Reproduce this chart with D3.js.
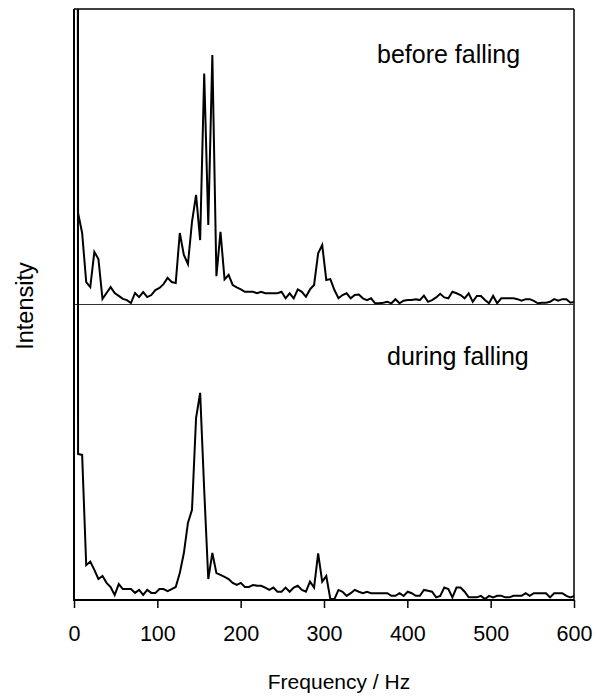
<html>
<head>
  <meta charset="utf-8">
  <script src="https://d3js.org/d3.v7.min.js"></script>
  <script>
    // spectra on a 4.88 Hz grid, intensity in % of panel height
    var freqStep = 4.8828125;
    var beforeFalling = [
      3000, 31.0, 24.2, 7.6, 5.9, 17.8, 15.4, 1.9, 3.9, 5.9,
      3.9, 2.9, 1.9, 1.5, 0.5, 3.9, 2.5, 4.2, 2.5, 3.2,
      4.9, 5.6, 6.9, 9.0, 7.6, 7.3, 24.2, 16.8, 13.7, 28.0,
      37.1, 21.8, 78.2, 26.9, 84.4, 9.6, 24.6, 8.5, 10.0, 6.6,
      5.8, 5.1, 4.3, 4.3, 4.3, 3.8, 4.3, 3.8, 3.8, 3.8,
      3.8, 4.3, 2.1, 3.8, 2.1, 5.1, 4.3, 2.6, 5.1, 6.6,
      17.3, 20.1, 8.3, 8.6, 4.9, 2.1, 3.2, 3.8, 2.1, 3.2,
      3.4, 2.1, 1.5, 2.1, 0.4, 0.4, 0.6, 0.9, 0.4, 1.8,
      0.4, 1.3, 1.5, 1.5, 1.8, 1.5, 3.0, 0.9, 1.5, 2.4,
      3.6, 2.4, 2.1, 4.3, 3.8, 3.2, 2.1, 3.8, 0.9, 2.9,
      2.9, 1.5, 0.4, 2.9, 0.4, 2.1, 2.1, 2.1, 2.1, 1.8,
      1.3, 1.8, 1.8, 1.2, 0.4, 0.6, 0.6, 0.9, 1.8, 1.3,
      1.8, 1.8, 0.6, 0.9
    ];
    var duringFalling = [
      3000, 49.4, 49.1, 11.8, 13.0, 10.2, 7.1, 8.1, 5.8, 4.4,
      1.7, 5.4, 3.7, 3.7, 3.7, 2.4, 3.4, 1.7, 3.4, 2.4,
      2.4, 3.7, 3.7, 3.0, 3.7, 4.4, 9.1, 15.9, 26.1, 30.5,
      61.6, 70.1, 37.2, 7.1, 15.9, 9.1, 8.5, 7.8, 7.1, 5.8,
      5.1, 5.8, 4.4, 4.4, 5.1, 4.8, 4.8, 4.2, 3.4, 4.2,
      2.8, 2.8, 4.2, 2.8, 4.2, 4.8, 3.4, 2.8, 6.2, 4.2,
      15.8, 6.2, 8.1, 0.3, 0.3, 3.4, 2.8, 1.4, 2.3, 3.4,
      2.8, 2.3, 2.8, 2.3, 2.3, 2.3, 2.3, 2.3, 1.4, 1.4,
      2.3, 1.4, 2.8, 2.3, 1.4, 1.4, 3.4, 3.1, 2.8, 0.9,
      1.4, 4.2, 3.7, 0.9, 4.2, 4.2, 2.8, 0.9, 0.9, 0.9,
      1.4, 0.3, 1.4, 0.9, 1.4, 1.4, 0.9, 0.9, 1.4, 1.4,
      1.4, 2.3, 1.4, 2.3, 2.3, 2.3, 2.3, 0.9, 2.3, 2.3,
      2.3, 1.4, 0.9, 1.4
    ];
    var xTicks = [0, 100, 200, 300, 400, 500, 600];
    var panelLabels = ["before falling", "during falling"];

    function drawChart() {
      var svg = d3.select("#chart");
      var left = 74, right = 574, top = 9, mid = 304.5, bottom = 600;
      var font = "'Liberation Sans', Arial, sans-serif";

      var x = d3.scaleLinear().domain([0, 600]).range([left, right]);
      var yTop = d3.scaleLinear().domain([0, 100]).range([mid, top]);
      var yBot = d3.scaleLinear().domain([0, 100]).range([bottom, mid]);

      svg.append("clipPath").attr("id", "plot")
        .append("rect").attr("x", left).attr("y", top)
        .attr("width", right - left).attr("height", bottom - top);

      var lineTop = d3.line().x((d, i) => x(i * freqStep)).y(d => yTop(d));
      var lineBot = d3.line().x((d, i) => x(i * freqStep)).y(d => yBot(d));

      // frame
      svg.append("line").attr("x1", left).attr("x2", right).attr("y1", top).attr("y2", top)
        .attr("stroke", "#000").attr("stroke-width", 1.5);
      svg.append("line").attr("x1", right).attr("x2", right).attr("y1", top).attr("y2", bottom)
        .attr("stroke", "#000").attr("stroke-width", 1.5);
      svg.append("line").attr("x1", left).attr("x2", right).attr("y1", mid).attr("y2", mid)
        .attr("stroke", "#333").attr("stroke-width", 1);

      var g = svg.append("g").attr("clip-path", "url(#plot)");
      g.append("path").datum(beforeFalling).attr("d", lineTop)
        .attr("fill", "none").attr("stroke", "#000").attr("stroke-width", 2)
        .attr("stroke-linejoin", "miter");
      g.append("path").datum(duringFalling).attr("d", lineBot)
        .attr("fill", "none").attr("stroke", "#000").attr("stroke-width", 2)
        .attr("stroke-linejoin", "miter");

      // axes
      svg.append("line").attr("x1", left).attr("x2", left).attr("y1", top).attr("y2", bottom + 1)
        .attr("stroke", "#000").attr("stroke-width", 2);
      var xAxis = svg.append("g").attr("transform", "translate(0," + bottom + ")")
        .call(d3.axisBottom(x).tickValues(xTicks).tickSize(8).tickPadding(18));
      xAxis.select(".domain").attr("stroke-width", 2).attr("d", "M" + left + ",0H" + right);
      xAxis.selectAll(".tick line").attr("stroke-width", 1.5);
      xAxis.selectAll("text").attr("font-family", font).attr("font-size", 21.5).attr("fill", "#000");

      svg.append("text").attr("x", 339).attr("y", 689).attr("text-anchor", "middle")
        .attr("font-family", font).attr("font-size", 21).text("Frequency / Hz");
      svg.append("text").attr("transform", "translate(33,306) rotate(-90)")
        .attr("text-anchor", "middle").attr("font-family", font).attr("font-size", 23.5)
        .text("Intensity");

      svg.append("text").attr("x", 377).attr("y", 63).attr("font-family", font)
        .attr("font-size", 25).text(panelLabels[0]);
      svg.append("text").attr("x", 387).attr("y", 365).attr("font-family", font)
        .attr("font-size", 25).text(panelLabels[1]);
    }
  </script>
</head>
<body onload="drawChart()" style="margin:0">
  <svg id="chart" width="610" height="697" style="background:#fff"></svg>
</body>
</html>
